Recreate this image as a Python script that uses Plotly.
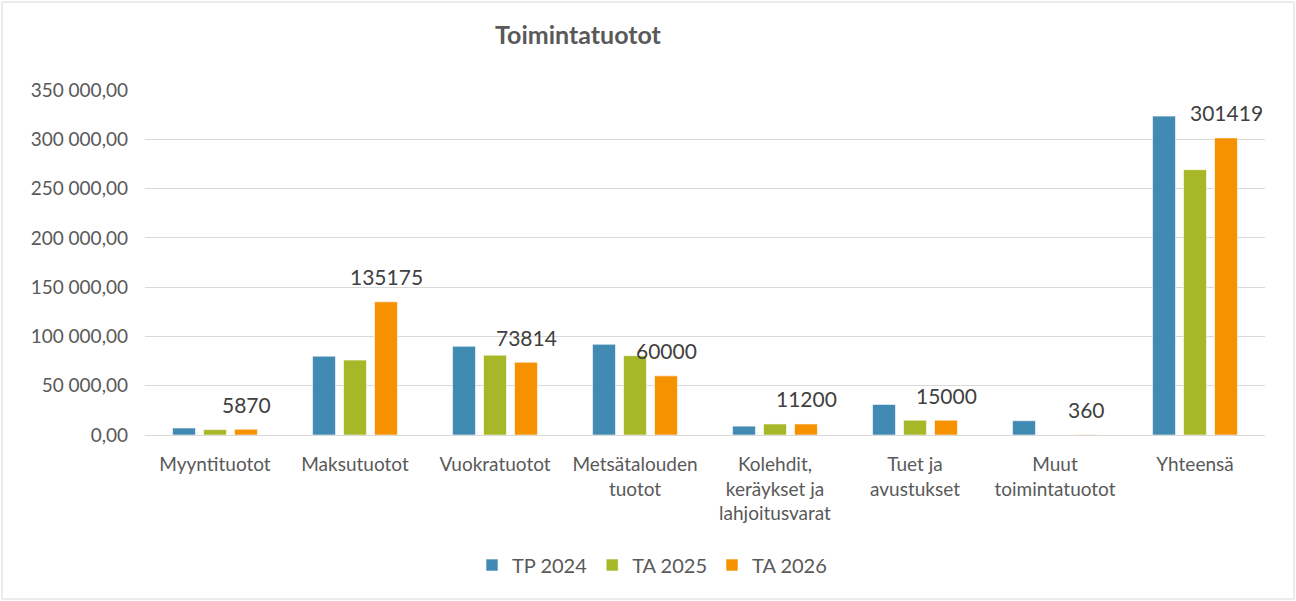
import plotly.graph_objects as go

categories = ["Myyntituotot", "Maksutuotot", "Vuokratuotot", "Metsätalouden<br>tuotot",
              "Kolehdit,<br>keräykset ja<br>lahjoitusvarat", "Tuet ja<br>avustukset",
              "Muut<br>toimintatuotot", "Yhteensä"]
tp2024 = [7100, 80000, 90000, 92000, 9000, 31000, 14500, 323500]
ta2025 = [5500, 76000, 81000, 80500, 11200, 15000, 0, 269200]
ta2026 = [5870, 135175, 73814, 60000, 11200, 15000, 360, 301419]
series_names = ["TP 2024", "TA 2025", "TA 2026"]
colors = ["#418AB3", "#A6B727", "#F69200"]
y_ticks = [0, 50000, 100000, 150000, 200000, 250000, 300000, 350000]

FONT = "Lato, Open Sans, sans-serif"
W, H = 1296, 601
L, R, T, B = 145, 31, 90, 166

fig = go.Figure()
for name, vals, col in zip(series_names, [tp2024, ta2025, ta2026], colors):
    fig.add_trace(go.Bar(x=categories, y=vals, name=name,
                         marker=dict(color=col, line=dict(color="rgba(255,255,255,0.6)", width=1))))

# data labels for TA 2026
for c, v in zip(categories, ta2026):
    fig.add_annotation(x=c, y=v, xref="x", yref="y", text=str(v), showarrow=False,
                       xshift=31, yshift=25, yanchor="middle",
                       font=dict(family=FONT, size=21, color="#404040"))

pw, ph = W - L - R, H - T - B
# outer border
fig.add_shape(type="rect", xref="paper", yref="paper",
              x0=(2 - L) / pw, x1=(W - 2 - L) / pw,
              y0=(H - B - (H - 2)) / ph, y1=(H - B - 2) / ph,
              line=dict(color="#D9D9D9", width=1), fillcolor="rgba(0,0,0,0)", layer="below")

fig.update_layout(
    width=W, height=H,
    margin=dict(l=L, r=R, t=T, b=B, autoexpand=False),
    paper_bgcolor="white", plot_bgcolor="white",
    separators=", ",
    barmode="group", bargap=0.336, bargroupgap=0.26,
    title=dict(text="<b>Toimintatuotot</b>", xref="container", yref="container",
               x=578 / W, y=1 - 35 / H, xanchor="center", yanchor="middle",
               font=dict(family=FONT, size=25, color="#595959")),
    font=dict(family=FONT, color="#595959"),
    legend=dict(orientation="h", x=(652 - L) / pw, xanchor="center",
                y=-(565 - (H - B)) / ph, yanchor="middle",
                font=dict(family=FONT, size=20, color="#595959")),
    showlegend=True,
)
fig.update_yaxes(range=[0, 350000], tickvals=y_ticks, tickformat=",.2f",
                 showgrid=True, gridcolor="#D9D9D9", gridwidth=1,
                 zeroline=True, zerolinecolor="#D9D9D9", zerolinewidth=1,
                 showline=False, ticks="", ticklabelstandoff=16,
                 tickfont=dict(family=FONT, size=19, color="#595959"))
fig.update_xaxes(showgrid=False, showline=True, linecolor="#D9D9D9", linewidth=1,
                 ticks="", ticklabelstandoff=12, tickangle=0,
                 tickfont=dict(family=FONT, size=19, color="#595959"))

fig.write_html("out.html", config={"displayModeBar": False},
               post_script="document.body.style.margin='0';document.body.style.padding='0';")
